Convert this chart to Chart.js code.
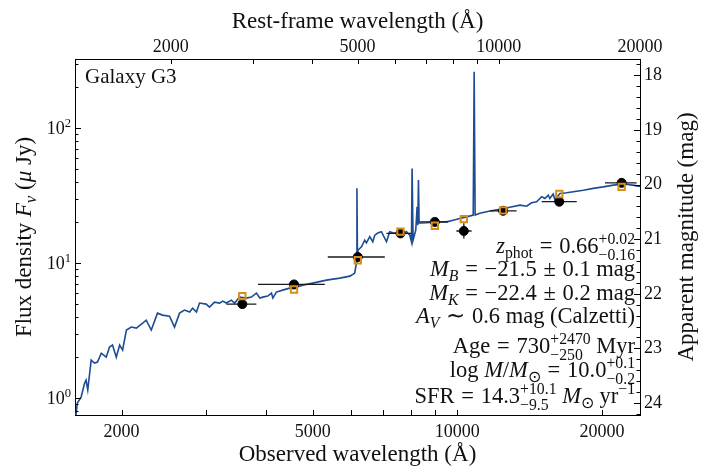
<!DOCTYPE html>
<html>
<head>
<meta charset="utf-8">
<script src="https://cdn.jsdelivr.net/npm/chart.js@4.4.0/dist/chart.umd.min.js"></script>
<style>
  html, body { margin: 0; padding: 0; background: #fff; }
</style>
</head>
<body>
<canvas id="sed" width="718" height="473"></canvas>
<script>
// model spectrum: observed wavelength (Å) and flux density (μJy)
const specWave = [1600, 1618, 1648, 1675, 1687, 1701, 1729, 1757, 1782, 1815, 1858, 1888, 1915, 1950, 1982,
  2010, 2047, 2096, 2147, 2213, 2251, 2306, 2376, 2433, 2517, 2578, 2641, 2704, 2772, 2811, 2864, 2906,
  3000, 3048, 3123, 3200, 3247, 3305, 3385, 3438, 3522, 3639, 3726, 3817, 3880, 3936, 4030, 4103, 4130,
  4201, 4329, 4477, 4624, 4767, 5000, 5339, 5694, 5976, 6114, 6165, 6180, 6195, 6215, 6316, 6416, 6468,
  6572, 6667, 6732, 6829, 6950, 7120, 7232, 7338, 7516, 7698, 7836, 7962, 8026, 8050, 8089, 8194, 8245,
  8273, 8300, 8325, 8421, 8626, 9050, 9495, 9800, 10120, 10450, 10790, 10840, 10890, 11140, 11690, 12260,
  12860, 13500, 13940, 14270, 14620, 14980, 15220, 15460, 15580, 15830, 15960, 16350, 16890, 17430,
  18290, 19180, 20120, 21120, 22150, 23190, 23810, 24000];
const specFlux = [0.65, 0.92, 1.02, 1.29, 1.36, 1.15, 1.91, 1.82, 1.85, 2.15, 2.01, 2.39, 2.47, 2.01, 2.47,
  2.27, 3.19, 3.36, 3.30, 3.59, 3.78, 3.19, 4.26, 4.12, 4.05, 3.36, 4.26, 4.49, 4.34, 4.64, 4.34, 5.06,
  4.97, 4.72, 5.14, 5.06, 5.23, 5.06, 5.32, 5.06, 5.60, 5.51, 5.60, 6.00, 5.51, 5.60, 5.70, 6.00, 5.51,
  6.10, 6.31, 6.53, 6.64, 6.87, 7.11, 7.48, 7.74, 8.01, 8.43, 10.0, 35.9, 11.5, 12.5, 13.2, 14.8, 14.1,
  15.7, 14.4, 16.1, 16.7, 17.1, 14.4, 17.1, 16.8, 16.7, 16.7, 17.1, 16.1, 14.4, 50.3, 14.8, 17.6, 26.1,
  19.1, 41.2, 19.8, 19.8, 19.9, 20.2, 20.2, 20.8, 21.4, 22.0, 22.7, 261, 22.7, 23.4, 24.3, 25.0,
  25.9, 26.9, 26.4, 28.0, 28.5, 31.0, 30.1, 31.9, 30.1, 32.5, 29.6, 32.8, 33.2, 33.8,
  34.7, 35.8, 36.7, 37.8, 38.5, 37.8, 37.2, 37.0];

// photometry: observed (black) and model (orange squares)
const photWave   = [3568, 4571, 6205, 7614, 8977, 10316, 12455, 16300, 21980];
const photWaveLo = [3305, 3846, 5374, 7120, 8352, 9954, 11690, 14980, 20290];
const photWaveHi = [3816, 5297, 7063, 8026, 9572, 10705, 13285, 17720, 23620];
const photFlux   = [4.97, 6.95, 11.1, 16.6, 20.2, 17.3, 24.4, 28.5, 39.3];
const photFluxLo = [4.75, 6.70, 10.7, 16.1, 19.6, 15.2, 23.8, 27.6, 38.2];
const photFluxHi = [5.20, 7.20, 11.5, 17.1, 20.8, 19.7, 25.0, 29.4, 40.4];
const modelFlux  = [5.70, 6.38, 10.5, 17.1, 18.9, 21.2, 24.6, 32.5, 36.7];

// tick labels
const obsTicks = [2000, 5000, 10000, 20000];
const restTicks = [2000, 5000, 10000, 20000];
const fluxTicks = [1, 10, 100];
const magTicks = [18, 19, 20, 21, 22, 23, 24];

// text block: [text, style]; a number with 'gap' is math spacing in em
const G = [0.3, 'gap'];
const statLines = [
  [['z', 'i'], ['phot', 'sub'], G, ['=', 'r'], G, ['0.66', 'r'], [['+0.02', '\u22120.16'], 'ss']],
  [['M', 'i'], ['B', 'subi'], G, ['=', 'r'], G, ['\u221221.5', 'r'], G, ['\u00b1', 'r'], G, ['0.1 mag', 'r']],
  [['M', 'i'], ['K', 'subi'], G, ['=', 'r'], G, ['\u221222.4', 'r'], G, ['\u00b1', 'r'], G, ['0.2 mag', 'r']],
  [['A', 'i'], ['V', 'subi'], G, ['\u223c', 'r'], G, ['0.6 mag (Calzetti)', 'r']],
  [['Age', 'r'], G, ['=', 'r'], G, ['730', 'r'], [['+2470', '\u2212250'], 'ss'], [' Myr', 'r']],
  [['log ', 'r'], ['M', 'i'], ['/', 'r'], ['M', 'i'], ['\u2299', 'sub'], G, ['=', 'r'], G, ['10.0', 'r'], [['+0.1', '\u22120.2'], 'ss']],
  [['SFR', 'r'], G, ['=', 'r'], G, ['14.3', 'r'], [['+10.1', '\u22129.5'], 'ss'], [' ', 'r'], ['M', 'i'], ['\u2299', 'sub'], [' yr', 'r'], ['\u22121', 'sup']]
];
const statOffsets = [162, 139, 115, 92, 62, 38, 12]; // baseline distance above the x axis

const FONT = '"Liberation Serif", "Times New Roman", serif';
const INK = '#111';

function segFont(kind, size) {
  const it = kind === 'i' || kind === 'subi';
  const small = kind === 'sub' || kind === 'subi' || kind === 'sup' || kind === 'ss';
  return (it ? 'italic ' : '') + (small ? size * 0.7 : size) + 'px ' + FONT;
}
function segWidth(ctx, seg, size) {
  if (seg[1] === 'gap') return seg[0] * size;
  ctx.font = segFont(seg[1], size);
  if (seg[1] === 'ss') return Math.max(ctx.measureText(seg[0][0]).width, ctx.measureText(seg[0][1]).width);
  return ctx.measureText(seg[0]).width;
}
function drawRich(ctx, segs, x, y, size, align) {
  let total = 0;
  segs.forEach(s => total += segWidth(ctx, s, size));
  let cx = align === 'right' ? x - total : align === 'center' ? x - total / 2 : x;
  ctx.textAlign = 'left';
  ctx.textBaseline = 'alphabetic';
  segs.forEach(s => {
    const w = segWidth(ctx, s, size);
    if (s[1] === 'gap') {
      // spacing only
    } else if (s[1] === 'ss') {
      ctx.fillText(s[0][0], cx, y - size * 0.42);
      ctx.fillText(s[0][1], cx, y + size * 0.3);
    } else if (s[1] === 'sub' || s[1] === 'subi') {
      ctx.fillText(s[0], cx, y + size * 0.22);
    } else if (s[1] === 'sup') {
      ctx.fillText(s[0], cx, y - size * 0.4);
    } else {
      ctx.fillText(s[0], cx, y);
    }
    cx += w;
  });
}

function logMinor(lo, hi) {
  const out = [];
  for (let d = Math.pow(10, Math.floor(Math.log10(lo))); d <= hi; d *= 10) {
    for (let k = 1; k < 10; k++) {
      const v = k * d;
      if (v >= lo && v <= hi) out.push(v);
    }
  }
  return out;
}

const errorBars = {
  id: 'errorBars',
  beforeDatasetDraw(chart, args) {
    if (args.index !== 1) return;
    const ctx = chart.ctx, x = chart.scales.x, y = chart.scales.y;
    ctx.save();
    ctx.strokeStyle = '#1a1a1a';
    ctx.lineWidth = 1.3;
    ctx.beginPath();
    for (let i = 0; i < photWave.length; i++) {
      const py = y.getPixelForValue(photFlux[i]);
      const px = x.getPixelForValue(photWave[i]);
      ctx.moveTo(x.getPixelForValue(photWaveLo[i]), py);
      ctx.lineTo(x.getPixelForValue(photWaveHi[i]), py);
      ctx.moveTo(px, y.getPixelForValue(photFluxLo[i]));
      ctx.lineTo(px, y.getPixelForValue(photFluxHi[i]));
    }
    ctx.stroke();
    ctx.restore();
  }
};

const decorations = {
  id: 'decorations',
  afterDraw(chart) {
    const ctx = chart.ctx, a = chart.chartArea;
    const x = chart.scales.x, x2 = chart.scales.x2, y = chart.scales.y, y2 = chart.scales.y2;
    ctx.save();
    // inward tick marks on all four sides
    const marks = [];
    const px = v => Math.round(v) + 0.5;
    logMinor(x.min, x.max).forEach(v => marks.push([px(x.getPixelForValue(v)), a.bottom, px(x.getPixelForValue(v)), a.bottom - 5]));
    logMinor(x2.min, x2.max).forEach(v => marks.push([px(x2.getPixelForValue(v)), a.top, px(x2.getPixelForValue(v)), a.top + 5]));
    logMinor(y.min, y.max).forEach(v => {
      const len = fluxTicks.includes(v) ? 6 : 3.5;
      marks.push([a.left, px(y.getPixelForValue(v)), a.left + len, px(y.getPixelForValue(v))]);
    });
    for (let m = 17.8; m <= y2.max + 1e-9; m += 0.2) {
      const len = Math.abs(m - Math.round(m)) < 1e-6 ? 6 : 3.5;
      marks.push([a.right, px(y2.getPixelForValue(m)), a.right - len, px(y2.getPixelForValue(m))]);
    }
    ctx.strokeStyle = '#000';
    ctx.lineWidth = 1;
    marks.forEach(t => {
      ctx.beginPath();
      ctx.moveTo(t[0], t[1]);
      ctx.lineTo(t[2], t[3]);
      ctx.stroke();
    });

    // left tick labels 10^n
    ctx.fillStyle = INK;
    fluxTicks.forEach(v => {
      const p = y.getPixelForValue(v);
      drawRich(ctx, [['10', 'r'], [String(Math.round(Math.log10(v))), 'sup']], a.left - 4, p + 6, 18, 'right');
    });

    // axis titles
    ctx.font = '23px ' + FONT;
    ctx.textAlign = 'center';
    ctx.textBaseline = 'alphabetic';
    ctx.fillText('Observed wavelength (\u00c5)', (a.left + a.right) / 2, a.bottom + 46);
    ctx.fillText('Rest-frame wavelength (\u00c5)', (a.left + a.right) / 2, a.top - 31);
    const midY = (a.top + a.bottom) / 2;
    ctx.save();
    ctx.translate(a.left - 44, midY);
    ctx.rotate(-Math.PI / 2);
    drawRich(ctx, [['Flux density ', 'r'], ['F', 'i'], ['\u03bd', 'subi'], [' (', 'r'], ['\u03bc', 'i'], [' Jy)', 'r']], 0, 0, 23, 'center');
    ctx.restore();
    ctx.save();
    ctx.translate(a.right + 53, midY);
    ctx.rotate(-Math.PI / 2);
    ctx.font = '23px ' + FONT;
    ctx.textAlign = 'center';
    ctx.fillText('Apparent magnitude (mag)', 0, 0);
    ctx.restore();

    // labels inside the panel
    ctx.font = '21px ' + FONT;
    ctx.textAlign = 'left';
    ctx.fillText('Galaxy G3', a.left + 10, a.top + 24);
    statLines.forEach((segs, i) => drawRich(ctx, segs, a.right - 5, a.bottom - statOffsets[i], 22.5, 'right'));
    ctx.restore();
  }
};

const tickFont = { family: FONT, size: 18 };
const axisCommon = {
  grid: { display: false, drawTicks: false },
  border: { display: true, color: '#000', width: 1 },
  title: { display: false }
};

new Chart(document.getElementById('sed'), {
  type: 'line',
  data: {
    datasets: [
      {
        label: 'model spectrum',
        data: specWave.map((w, i) => ({ x: w, y: specFlux[i] })),
        borderColor: '#1c4c94',
        borderWidth: 1.6,
        pointRadius: 0,
        tension: 0,
        order: 3
      },
      {
        label: 'observed',
        data: photWave.map((w, i) => ({ x: w, y: photFlux[i] })),
        showLine: false,
        pointRadius: 4.5,
        backgroundColor: '#000',
        borderColor: '#000',
        order: 2
      },
      {
        label: 'model photometry',
        data: photWave.map((w, i) => ({ x: w, y: modelFlux[i] })),
        showLine: false,
        pointStyle: 'rect',
        pointRadius: 4.5,
        borderWidth: 2,
        borderColor: '#d6901a',
        backgroundColor: 'rgba(0,0,0,0)',
        order: 1
      }
    ]
  },
  options: {
    responsive: false,
    animation: false,
    devicePixelRatio: 1,
    layout: { padding: 0 },
    plugins: { legend: { display: false }, tooltip: { enabled: false } },
    scales: {
      x: {
        ...axisCommon,
        type: 'logarithmic',
        position: 'bottom',
        min: 1600,
        max: 24000,
        ticks: { font: tickFont, color: INK, padding: 6, autoSkip: false, maxRotation: 0, callback: v => String(v) },
        afterBuildTicks: s => { s.ticks = obsTicks.map(v => ({ value: v })); },
        afterFit: s => { s.height = 58; }
      },
      x2: {
        ...axisCommon,
        type: 'logarithmic',
        position: 'top',
        min: 1250,
        max: 20000,
        ticks: { font: tickFont, color: INK, padding: 1, autoSkip: false, maxRotation: 0, callback: v => String(v) },
        afterBuildTicks: s => { s.ticks = restTicks.map(v => ({ value: v })); },
        afterFit: s => { s.height = 59; }
      },
      y: {
        ...axisCommon,
        type: 'logarithmic',
        position: 'left',
        min: 0.75,
        max: 325,
        ticks: { display: false },
        afterBuildTicks: s => { s.ticks = fluxTicks.map(v => ({ value: v })); },
        afterFit: s => { s.width = 75; }
      },
      y2: {
        ...axisCommon,
        type: 'linear',
        position: 'right',
        reverse: true,
        min: 17.7,
        max: 24.22,
        ticks: { font: tickFont, color: INK, padding: 4, autoSkip: false, callback: v => String(v) },
        afterBuildTicks: s => { s.ticks = magTicks.map(v => ({ value: v })); },
        afterFit: s => { s.width = 78; }
      }
    }
  },
  plugins: [errorBars, decorations]
});
</script>
</body>
</html>
